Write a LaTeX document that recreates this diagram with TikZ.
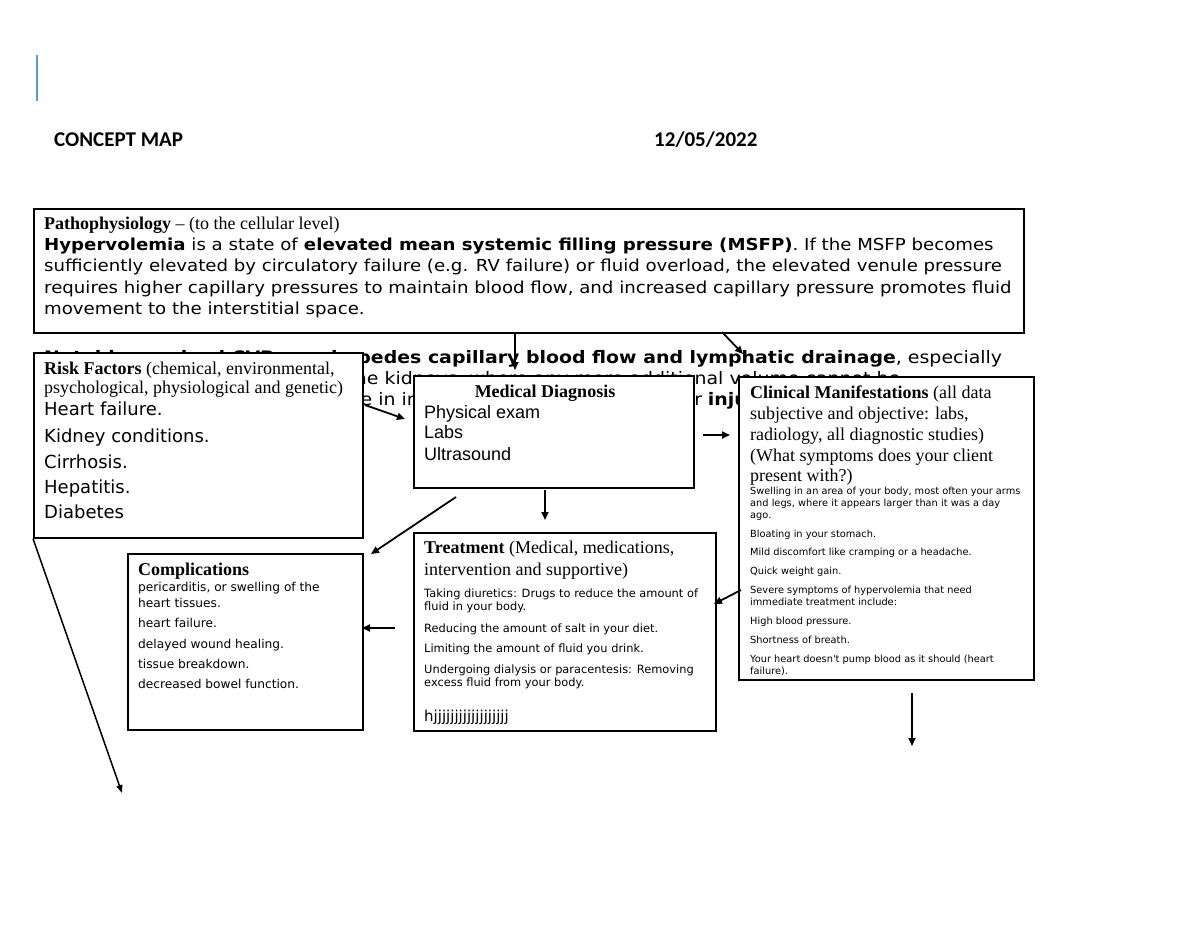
\documentclass[tikz,border=0pt]{standalone}
\usepackage{fontspec}
\setmainfont{Liberation Serif}
\newfontfamily\dvs{DejaVu Sans}
\newfontfamily\dvsw[FakeStretch=1.1]{DejaVu Sans}
\newfontfamily\lsans{Liberation Sans}
\newfontfamily\carl{Carlito}
\usetikzlibrary{arrows.meta}
\definecolor{barblue}{RGB}{91,155,213}
\begin{document}
\begin{tikzpicture}[x=1pt,y=-1pt,
  box/.style={draw, line width=1.6pt, fill=white, inner sep=0pt, anchor=north west},
  ln/.style={anchor=base west, inner sep=0pt},
  arr/.style={line width=1.8pt, -{Triangle[length=8pt,width=7pt]}},
  title/.style={ln, font=\carl\bfseries\fontsize{21}{23}\selectfont},
  body/.style={ln, font=\dvsw\fontsize{16.5}{20}\selectfont},
  over/.style={ln, font=\dvsw\fontsize{17.2}{21}\selectfont},
  head/.style={ln, font=\fontsize{18}{20}\selectfont},
  rlst/.style={ln, font=\dvs\fontsize{18}{20}\selectfont},
  lst/.style={ln, font=\lsans\fontsize{18}{20}\selectfont},
  small/.style={ln, font=\dvs\fontsize{9.8}{11}\selectfont},
  tsmall/.style={ln, font=\dvs\fontsize{11.4}{13}\selectfont},
  csmall/.style={ln, font=\dvs\fontsize{12.2}{14}\selectfont},
]
\useasboundingbox[fill=white] (0,0) rectangle (1200,927);

% header
\draw[barblue, line width=2.5pt] (37,55) -- (37,101);
\node[title] (t1) at (54,146) {CONCEPT MAP};
\node[title] (t2) at (654,146) {12/05/2022};

% overflowing text (mostly hidden by the boxes)
\node[over] (o1) at (44,363) {\textbf{Notably, a raised CVP now impedes capillary blood flow and lymphatic drainage}, especially};
\node[over] (o2) at (44,384) {in organs such as the liver, and the kidneys, where any more additional volume cannot be};
\node[over] (o3) at (44,405) {accommodated, leading to decline in intestinal and renal flows, other \textbf{injury}};

% pathophysiology
\node[box, minimum width=990pt, minimum height=124pt] (patho) at (33,208) {};
\node[ln, font=\fontsize{18}{19}\selectfont] (p0) at (44,229) {\textbf{Pathophysiology} -- (to the cellular level)};
\node[body] (p1) at (44,250) {\textbf{Hypervolemia} is a state of \textbf{elevated mean systemic filling pressure (MSFP)}. If the MSFP becomes};
\node[body] (p2) at (44,271) {sufficiently elevated by circulatory failure (e.g. RV failure) or fluid overload, the elevated venule pressure};
\node[body] (p3) at (44,293) {requires higher capillary pressures to maintain blood flow, and increased capillary pressure promotes fluid};
\node[body] (p4) at (44,314) {movement to the interstitial space.};

% risk factors
\node[box, minimum width=329pt, minimum height=185pt] (risk) at (33,352) {};
\node[head] (r0) at (44,374) {\textbf{Risk Factors} (chemical, environmental,};
\node[head] (r1) at (44,393) {psychological, physiological and genetic)};
\node[rlst] (r2) at (44,415) {Heart failure.};
\node[rlst] (r3) at (44,442) {Kidney conditions.};
\node[rlst] (r4) at (44,468) {Cirrhosis.};
\node[rlst] (r5) at (44,493) {Hepatitis.};
\node[rlst] (r6) at (44,518) {Diabetes};

% medical diagnosis
\node[box, minimum width=280pt, minimum height=112pt] (md) at (413,375) {};
\node[anchor=base, inner sep=0pt, font=\bfseries\fontsize{18}{20}\selectfont] (m0) at (545,397) {Medical Diagnosis};
\node[lst] (m1) at (424,418) {Physical exam};
\node[lst] (m2) at (424,438) {Labs};
\node[lst] (m3) at (424,460) {Ultrasound};

% clinical manifestations
\node[box, minimum width=295pt, minimum height=303pt] (clin) at (738,376) {};
\node[head] (c0) at (750,398) {\textbf{Clinical Manifestations} (all data};
\node[head] (c1) at (750,419) {subjective and objective: labs,};
\node[head] (c2) at (750,440) {radiology, all diagnostic studies)};
\node[head] (c3) at (750,461) {(What symptoms does your client};
\node[head] (c4) at (750,481) {present with?)};
\node[small] (c5) at (750,494) {Swelling in an area of your body, most often your arms};
\node[small] (c6) at (750,506) {and legs, where it appears larger than it was a day};
\node[small] (c7) at (750,518) {ago.};
\node[small] (c8) at (750,537) {Bloating in your stomach.};
\node[small] (c9) at (750,555) {Mild discomfort like cramping or a headache.};
\node[small] (c10) at (750,574) {Quick weight gain.};
\node[small] (c11) at (750,593) {Severe symptoms of hypervolemia that need};
\node[small] (c12) at (750,605) {immediate treatment include:};
\node[small] (c13) at (750,624) {High blood pressure.};
\node[small] (c14) at (750,643) {Shortness of breath.};
\node[small] (c15) at (750,662) {Your heart doesn't pump blood as it should (heart};
\node[small] (c16) at (750,674) {failure).};

% treatment
\node[box, minimum width=302pt, minimum height=198pt] (treat) at (413,532) {};
\node[head] (tr0) at (424,553) {\textbf{Treatment} (Medical, medications,};
\node[head] (tr1) at (424,575) {intervention and supportive)};
\node[tsmall] (tr2) at (424,597) {Taking diuretics: Drugs to reduce the amount of};
\node[tsmall] (tr3) at (424,610) {fluid in your body.};
\node[tsmall] (tr4) at (424,632) {Reducing the amount of salt in your diet.};
\node[tsmall] (tr5) at (424,652) {Limiting the amount of fluid you drink.};
\node[tsmall] (tr6) at (424,673) {Undergoing dialysis or paracentesis: Removing};
\node[tsmall] (tr7) at (424,686) {excess fluid from your body.};
\node[ln, font=\dvs\fontsize{15}{17}\selectfont] (tr8) at (424,721) {hjjjjjjjjjjjjjjjjjj};

% complications
\node[box, minimum width=235pt, minimum height=176pt] (comp) at (127,553) {};
\node[ln, font=\bfseries\fontsize{18}{20}\selectfont] (k0) at (138,575) {Complications};
\node[csmall] (k1) at (138,591) {pericarditis, or swelling of the};
\node[csmall] (k2) at (138,607) {heart tissues.};
\node[csmall] (k3) at (138,627) {heart failure.};
\node[csmall] (k4) at (138,648) {delayed wound healing.};
\node[csmall] (k5) at (138,668) {tissue breakdown.};
\node[csmall] (k6) at (138,688) {decreased bowel function.};

% connector end points
\coordinate (a1s) at (515,332);
\coordinate (a1e) at (515,370);
\coordinate (a2s) at (722,332);
\coordinate (a2e) at (743,354);
\coordinate (a3s) at (365,405);
\coordinate (a3e) at (405,419);
\coordinate (a4s) at (703,435);
\coordinate (a4e) at (730,435);
\coordinate (a5s) at (545,490);
\coordinate (a5e) at (545,520);
\coordinate (a6s) at (456,497);
\coordinate (a6e) at (371,554);
\coordinate (a7s) at (395,628);
\coordinate (a7e) at (362,628);
\coordinate (a8s) at (741,590);
\coordinate (a8e) at (714,604);
\coordinate (a9s) at (912,693);
\coordinate (a9e) at (912,746);
\coordinate (a10e) at (122,793);

\draw[arr] (a1s) -- (a1e);
\draw[arr] (a2s) -- (a2e);
\draw[arr] (a3s) -- (a3e);
\draw[arr] (a4s) -- (a4e);
\draw[arr] (a5s) -- (a5e);
\draw[arr] (a6s) -- (a6e);
\draw[arr] (a7s) -- (a7e);
\draw[arr] (a8s) -- (a8e);
\draw[arr] (a9s) -- (a9e);
\draw[line width=1.5pt, -{Triangle[length=8pt,width=6pt]}] (risk.south west) -- (a10e);
\end{tikzpicture}
\end{document}
